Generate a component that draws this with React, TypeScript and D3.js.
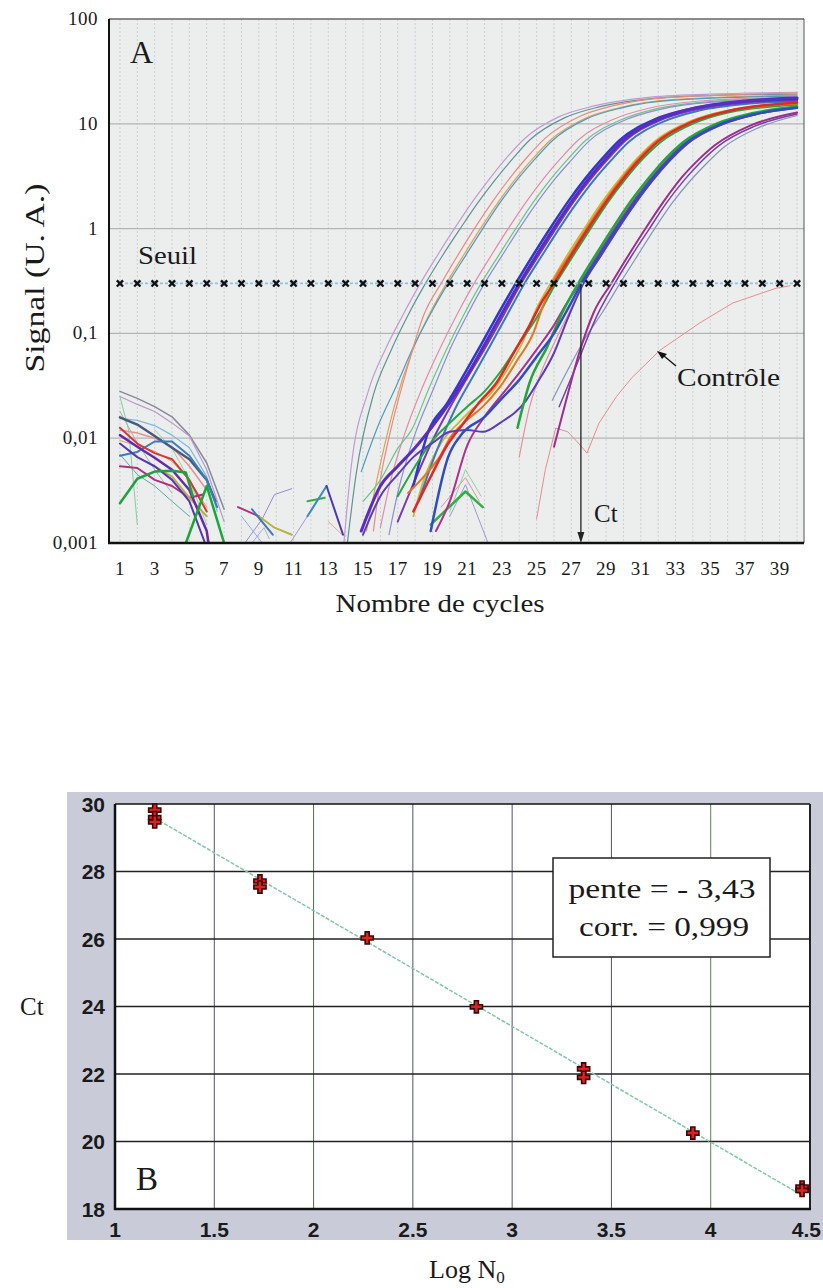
import React from "react";
import * as d3 from "d3";

type Pt = [number, number];

// ---------- Panel A : amplification curves (signal vs cycle) ----------
const cycleTickValues = [1, 3, 5, 7, 9, 11, 13, 15, 17, 19, 21, 23, 25, 27, 29, 31, 33, 35, 37, 39];
const signalTickValues = [0.001, 0.01, 0.1, 1, 10, 100];
const signalTickLabels = ["0,001", "0,01", "0,1", "1", "10", "100"];
const thresholdSignal = 0.3;
const ctCycle = 27.55;
const lastCycle = 40;

// Noisy baseline traces over the first cycles
const earlyTraces: Pt[][] = [
  [[1, 0.028], [2, 0.024], [3, 0.02], [4, 0.016], [5, 0.0107], [6, 0.0058], [7, 0.0021]],
  [[1, 0.025], [2, 0.021], [3, 0.018], [4, 0.014], [5, 0.0105], [6, 0.005], [7, 0.0016]],
  [[1, 0.0155], [2, 0.0148], [3, 0.0132], [4, 0.0107], [5, 0.0081], [6, 0.0043], [6.6, 0.002]],
  [[1, 0.018], [2, 0.009], [3, 0.005], [4, 0.003]],
  [[1, 0.025], [1.5, 0.012], [2, 0.0015]],
  [[3, 0.012], [4, 0.008], [5, 0.004], [6, 0.0015]],
  [[1, 0.0095], [2, 0.0085], [3, 0.0075], [4, 0.006], [5, 0.004], [6, 0.0022]],
  [[1, 0.007], [2, 0.0045], [3, 0.0035], [4, 0.0025], [5, 0.0018]],
  [[1, 0.012], [2, 0.0112], [3, 0.01], [4, 0.0083], [5, 0.0054], [6, 0.0032]],
  [[1, 0.0158], [2, 0.0135], [3, 0.0105], [4, 0.0081], [5, 0.0063], [6, 0.004], [6.5, 0.0025]],
  [[1, 0.0068], [2, 0.0074], [3, 0.0093], [4, 0.0093], [5, 0.0068], [6, 0.004], [6.6, 0.0022]],
  [[1, 0.0126], [2, 0.0089], [3, 0.0072], [4, 0.0063], [5, 0.004], [6, 0.002]],
  [[1, 0.0054], [2, 0.0052], [3, 0.004], [4, 0.0035], [5, 0.0027], [5.8, 0.0029]],
  [[3, 0.0054], [4, 0.0043], [5, 0.0027], [6, 0.0018]],
  [[1, 0.0107], [2, 0.0083], [3, 0.0065], [4, 0.005], [5, 0.0032], [6, 0.0013], [6.1, 0.001]],
  [[1, 0.0089], [2, 0.0066], [3, 0.0054], [4, 0.004], [5, 0.0025], [5.9, 0.001]],
  [[1, 0.0024], [2, 0.0041], [3, 0.0048], [4, 0.0049], [4.8, 0.0047], [5.2, 0.0028]],
  [[4.8, 0.001], [6, 0.0035], [7, 0.001]],
];
const earlyColors = [
  "#8a8898", "#b898cc", "#7cb8dc", "#a4b4a4", "#88cc98", "#9ad0a0", "#e0a060", "#5ea4a4", "#e89090",
  "#4a587a", "#3a7cc0", "#d83838", "#b03080", "#b8b040", "#6a2aa8", "#5236b4", "#20a040", "#18a838",
];
const earlyWidths = [1.5, 1.2, 1.2, 1, 1, 1, 1, 1, 1.5, 2.5, 2, 2, 2, 2, 2.5, 2, 2.5, 2.5];

// Short fragments near the bottom edge
const midTraces: Pt[][] = [
  [[8.0, 0.0018], [9.2, 0.001]],
  [[8.2, 0.001], [9.2, 0.0017], [9.9, 0.0029], [10.9, 0.0033]],
  [[8.6, 0.001], [9.3, 0.0014], [9.6, 0.0011]],
  [[7.8, 0.0022], [9.0, 0.0018]],
  [[9.0, 0.0018], [9.9, 0.0014], [10.9, 0.0012]],
  [[8.6, 0.0021], [9.8, 0.0012]],
  [[10.8, 0.001], [11.8, 0.0018]],
  [[13.0, 0.0016], [13.8, 0.0012]],
  [[11.8, 0.0025], [12.8, 0.0027]],
  [[11.8, 0.0018], [12.9, 0.0035]],
  [[12.9, 0.0035], [13.85, 0.0012]],
  [[19.5, 0.0022], [20.9, 0.0042], [21.7, 0.0025]],
  [[20.0, 0.0018], [20.9, 0.0036], [22.2, 0.001]],
  [[20.0, 0.002], [20.9, 0.005], [21.8, 0.0028]],
  [[18.9, 0.0015], [20.9, 0.0031], [21.9, 0.0022]],
];
const midColors = [
  "#80b0e0", "#9a88d0", "#b0a8d8", "#b0307c", "#b8b040", "#3a7ab8", "#a098d0", "#e8a090",
  "#30b040", "#3a88c8", "#4a38b8", "#e090a0", "#a098d0", "#90d0a0", "#30b040",
];
const midWidths = [1, 1, 1, 2, 2, 2, 1, 1, 2, 2, 2, 1, 1, 1, 2.5];

// Seven dilutions, thin traces for the most concentrated samples
const dilutionTraces: Pt[][] = [
  [[13.9, 0.001], [14.3, 0.005], [15.3, 0.028], [16.3, 0.071], [17.3, 0.15], [18.3, 0.3], [19.3, 0.56], [20.3, 1.02], [21.3, 1.8], [22.3, 3.0], [23.3, 4.8], [24.3, 7.2], [26.3, 11.7], [28.3, 14.8], [31.3, 17.8], [35, 19.2], [40, 20.0]],
  [[14.1, 0.001], [14.6, 0.0045], [15.6, 0.026], [16.6, 0.068], [17.6, 0.15], [18.6, 0.3], [19.6, 0.56], [20.6, 1.0], [21.6, 1.75], [22.6, 2.9], [23.6, 4.6], [24.6, 7.0], [26.6, 11.4], [28.6, 14.5], [31.6, 17.4], [35, 18.6], [40, 19.2]],
  [[15.2, 0.0013], [15.8, 0.004], [16.8, 0.02], [17.8, 0.065], [18.8, 0.15], [19.8, 0.3], [20.8, 0.56], [21.8, 1.02], [22.8, 1.8], [23.8, 3.0], [24.8, 4.7], [25.8, 7.0], [27.8, 11.3], [29.8, 14.3], [32.8, 17.0], [40, 18.8]],
  [[14.9, 0.0048], [15.9, 0.0135], [16.9, 0.031], [17.9, 0.074], [18.9, 0.155], [19.9, 0.3], [20.9, 0.55], [21.9, 1.0], [22.9, 1.78], [23.9, 2.95], [24.9, 4.6], [25.9, 6.9], [27.9, 11.2], [29.9, 14.2], [32.9, 16.8], [40, 18.4]],
  [[15.6, 0.0013], [16.0, 0.004], [16.6, 0.012], [17.6, 0.05], [18.5, 0.15], [19.5, 0.3], [20.5, 0.57], [21.5, 1.05], [22.5, 1.85], [23.5, 3.1], [24.5, 4.9], [25.5, 7.3], [27.5, 11.8], [29.5, 15.0], [32.5, 17.8], [40, 19.6]],
  [[16.0, 0.0014], [16.6, 0.004], [17.4, 0.011], [18.4, 0.03], [19.4, 0.07], [20.4, 0.15], [21.4, 0.3], [22.4, 0.56], [23.4, 1.02], [24.4, 1.8], [25.4, 3.0], [26.4, 4.7], [27.4, 7.0], [29.4, 11.0], [31.4, 14.0], [34.4, 16.5], [40, 18.0]],
  [[15.0, 0.0025], [16.0, 0.004], [17.0, 0.008], [17.8, 0.012], [18.8, 0.03], [19.8, 0.07], [20.8, 0.15], [21.8, 0.3], [22.8, 0.55], [23.8, 1.0], [24.8, 1.78], [25.8, 2.95], [26.8, 4.6], [27.8, 6.9], [29.8, 10.8], [31.8, 13.8], [34.8, 16.2], [40, 17.6]],
  [[16.5, 0.0012], [17.0, 0.003], [18.0, 0.011], [19.0, 0.028], [20.0, 0.07], [21.0, 0.15], [22.0, 0.3], [23.0, 0.55], [24.0, 1.0], [25.0, 1.75], [26.0, 2.9], [27.0, 4.5], [28.0, 6.8], [30.0, 10.7], [32.0, 13.6], [35.0, 16.0], [40, 17.2]],
  [[24.0, 0.0066], [24.6, 0.02], [25.2, 0.04], [26.0, 0.08], [26.8, 0.15], [27.7, 0.3], [28.7, 0.55], [29.7, 1.0], [30.7, 1.75], [31.7, 2.9], [32.7, 4.5], [33.7, 6.4], [35.7, 9.8], [37.7, 12.3], [40, 14.0]],
  [[25.9, 0.023], [26.8, 0.045], [27.8, 0.09], [28.8, 0.16], [29.8, 0.3], [30.8, 0.55], [31.8, 1.0], [32.8, 1.75], [33.8, 2.8], [34.8, 4.2], [35.8, 6.0], [37.8, 9.2], [40, 12.0]],
  [[17.9, 0.0018], [18.5, 0.004], [19.5, 0.009], [20.5, 0.014], [21.3, 0.019], [22.3, 0.026], [23.3, 0.045], [24.3, 0.09], [24.9, 0.16], [25.8, 0.3], [26.8, 0.57], [27.8, 1.03], [28.8, 1.82], [29.8, 3.0], [30.8, 4.7], [31.8, 6.8], [33.8, 10.5], [35.8, 13.2], [40, 15.8]],
  [[18.2, 0.0025], [19.3, 0.008], [20.3, 0.019], [21.3, 0.038], [22.3, 0.075], [23.3, 0.15], [24.3, 0.3], [25.3, 0.55], [26.3, 1.0], [27.3, 1.75], [28.3, 2.9], [29.3, 4.5], [30.3, 6.7], [32.3, 10.5], [34.3, 13.3], [37.3, 15.6], [40, 16.4]],
  [[17.0, 0.0016], [18.0, 0.004], [19.0, 0.0095], [20.1, 0.021], [21.1, 0.04], [22.1, 0.076], [23.1, 0.15], [24.1, 0.3], [25.1, 0.55], [26.1, 1.0], [27.1, 1.78], [28.1, 2.95], [29.1, 4.6], [30.1, 6.9], [32.1, 10.8], [34.1, 13.6], [37.1, 16.0], [40, 16.8]],
  [[17.9, 0.0035], [18.8, 0.012], [19.8, 0.021], [20.8, 0.04], [21.8, 0.078], [22.8, 0.155], [23.8, 0.3], [24.8, 0.56], [25.8, 1.02], [26.8, 1.8], [27.8, 3.0], [28.8, 4.7], [29.8, 7.0], [31.8, 11.0], [33.8, 13.8], [36.8, 16.2], [40, 17.2]],
  [[14.9, 0.0013], [16.0, 0.0035], [17.0, 0.0054], [18.0, 0.0081], [19.0, 0.013], [20.0, 0.022], [21.0, 0.04], [22.0, 0.078], [23.0, 0.155], [24.0, 0.3], [25.0, 0.56], [26.0, 1.02], [27.0, 1.8], [28.0, 3.0], [29.0, 4.7], [30.0, 7.0], [32.0, 11.0], [34.0, 14.0], [37.0, 16.5], [40, 17.6]],
  [[17.0, 0.0028], [18.0, 0.0054], [19.0, 0.0095], [20.0, 0.014], [21.0, 0.02], [22.0, 0.028], [23.0, 0.045], [24.0, 0.08], [25.1, 0.15], [26.1, 0.3], [27.1, 0.55], [28.1, 1.0], [29.1, 1.78], [30.1, 2.95], [31.1, 4.6], [32.1, 6.6], [34.1, 10.2], [36.1, 12.9], [40, 15.2]],
  [[17.6, 0.003], [18.6, 0.0045], [19.4, 0.0066], [20.0, 0.01], [21.0, 0.015], [21.9, 0.02], [22.9, 0.031], [23.9, 0.056], [24.8, 0.1], [25.3, 0.17], [25.9, 0.3], [26.9, 0.56], [27.9, 1.02], [28.9, 1.8], [29.9, 3.0], [30.9, 4.7], [31.9, 6.8], [33.9, 10.5], [35.9, 13.2], [40, 15.6]],
  [[17.9, 0.002], [18.9, 0.0043], [19.8, 0.0083], [20.8, 0.014], [21.7, 0.022], [22.7, 0.034], [23.6, 0.062], [24.6, 0.12], [25.3, 0.2], [26.0, 0.3], [27.0, 0.56], [28.0, 1.02], [29.0, 1.8], [30.0, 3.0], [31.0, 4.7], [32.0, 6.8], [34.0, 10.5], [36.0, 13.2], [40, 16.0]],
  [[19.2, 0.0013], [20.0, 0.0025], [21.0, 0.0085], [22.0, 0.016], [23.0, 0.026], [24.0, 0.042], [25.0, 0.07], [26.0, 0.12], [26.7, 0.19], [27.5, 0.3], [28.5, 0.55], [29.5, 1.0], [30.5, 1.75], [31.5, 2.9], [32.5, 4.5], [33.5, 6.5], [35.5, 9.9], [37.5, 12.4], [40, 14.4]],
  [[15.0, 0.0012], [16.0, 0.0028], [17.0, 0.0045], [17.9, 0.0066], [19.0, 0.009], [20.0, 0.0115], [21.0, 0.012], [21.9, 0.0115], [22.9, 0.014], [24.4, 0.023], [25.0, 0.033], [26.0, 0.065], [26.8, 0.14], [27.7, 0.3], [28.7, 0.55], [29.7, 1.0], [30.7, 1.75], [31.7, 2.9], [32.7, 4.5], [33.7, 6.5], [35.7, 9.9], [37.7, 12.4], [40, 14.3]],
  [[23.9, 0.0126], [24.6, 0.034], [25.6, 0.074], [26.5, 0.16], [27.4, 0.3], [28.4, 0.56], [29.4, 1.02], [30.4, 1.8], [31.4, 2.95], [32.4, 4.6], [33.4, 6.6], [35.4, 10.1], [37.4, 12.6], [40, 14.6]],
  [[18.9, 0.0013], [19.9, 0.0066], [20.7, 0.011], [22.0, 0.016], [23.0, 0.024], [24.0, 0.036], [25.0, 0.06], [26.0, 0.1], [26.7, 0.16], [27.6, 0.3], [28.6, 0.55], [29.6, 1.0], [30.6, 1.75], [31.6, 2.9], [32.6, 4.5], [33.6, 6.5], [35.6, 9.9], [37.6, 12.4], [40, 14.2]],
  [[26.3, 0.02], [27.3, 0.05], [28.5, 0.15], [29.5, 0.3], [30.5, 0.56], [31.5, 1.0], [32.5, 1.78], [33.5, 2.9], [34.5, 4.4], [35.5, 6.2], [37.5, 9.4], [40, 12.4]],
  [[26.0, 0.0083], [26.7, 0.023], [27.5, 0.069], [28.3, 0.16], [29.3, 0.3], [30.3, 0.56], [31.3, 1.02], [32.3, 1.8], [33.3, 3.0], [34.3, 4.5], [35.3, 6.3], [37.3, 9.6], [40, 12.8]],
];
const dilutionColors = [
  "#c09ad4", "#5f9494", "#e0a050", "#4a9cc0", "#e88a80", "#e48aa8", "#6cc488", "#8c8cd8",
  "#e89098", "#8494b8", "#c8b838", "#3c78c0", "#7a3ab8", "#3038c8", "#5a2cc0", "#28a83c",
  "#e8741c", "#e02828", "#b0308c", "#5a3cc0", "#22a63a", "#2f4cc4", "#7040b0", "#a02c8c",
];
const dilutionWidths = [1.2, 1.2, 1.2, 1.2, 1.2, 1.2, 1.2, 1.2, 1.2, 1.2, 1.8, 2, 2, 2.5, 3, 2, 2, 2.5, 2, 2, 2.5, 2.5, 1.5, 2];

// Negative control
const controlTrace: Pt[] = [
  [25.0, 0.0017], [25.5, 0.005], [26.1, 0.0125], [26.8, 0.0115], [27.4, 0.009], [27.9, 0.0072],
  [28.6, 0.014], [29.6, 0.025], [30.5, 0.038], [32.1, 0.069], [34.4, 0.126], [36.3, 0.195], [38.8, 0.27], [39.6, 0.285],
];

// ---------- Panel B : standard curve ----------
const logN0Ticks = [1, 1.5, 2, 2.5, 3, 3.5, 4, 4.5];
const logN0Labels = ["1", "1.5", "2", "2.5", "3", "3.5", "4", "4.5"];
const ctTicks = [18, 20, 22, 24, 26, 28, 30];
const ctTickLabels = ["18", "20", "22", "24", "26", "28", "30"];
const standardLogN0 = [1.2, 1.2, 1.2, 1.73, 1.73, 2.27, 2.82, 3.36, 3.36, 3.91, 4.46, 4.46];
const standardCt = [29.82, 29.6, 29.47, 27.72, 27.54, 26.03, 23.99, 22.15, 21.9, 20.25, 18.65, 18.55];
const fitSlope = -3.43;
const fitCorr = 0.999;

const SERIF = "'Liberation Serif', 'Times New Roman', serif";
const SANS = "'Liberation Sans', Arial, sans-serif";

const frText = (v: number, digits: number) => v.toFixed(digits).replace(".", ",");

export default function App() {
  // Panel A scales
  const xA = d3.scaleLinear().domain([0.37, 40.4]).range([109, 804]);
  const yA = d3.scaleLog().domain([0.001, 100]).range([543, 19]);
  const smooth = d3.line<Pt>().x((d) => xA(d[0])).y((d) => yA(d[1])).curve(d3.curveMonotoneX);
  const straight = d3.line<Pt>().x((d) => xA(d[0])).y((d) => yA(d[1]));
  const [aLeft, aRight] = xA.range();
  const [aBottom, aTop] = yA.range();

  // Panel B scales
  const xB = d3.scaleLinear().domain([1, 4.5]).range([115, 810]);
  const yB = d3.scaleLinear().domain([18, 30]).range([1209, 804]);
  const [bLeft, bRight] = xB.range();
  const [bBottom, bTop] = yB.range();

  const meanX = d3.mean(standardLogN0) as number;
  const meanY = d3.mean(standardCt) as number;
  const fitIntercept = meanY - fitSlope * meanX;
  const fitX = d3.extent(standardLogN0) as [number, number];
  const cross = d3.symbol().type(d3.symbolCross).size(82)();

  const thY = yA(thresholdSignal);
  const thresholdCycles = d3.range(1, lastCycle + 1);
  const ctX = xA(ctCycle);

  const vGridB = logN0Ticks.slice(1, -1);
  const vGridColors: Record<string, string> = { "2": "#4f6e52", "4": "#5c7f5c" };
  const lastTick = logN0Ticks.length - 1;

  return (
    <svg width={823} height={1288} style={{ position: "absolute", left: 0, top: 0, background: "#fff" }}>
      <defs>
        <clipPath id="plotA">
          <rect x={aLeft} y={aTop} width={aRight - aLeft} height={aBottom - aTop} />
        </clipPath>
      </defs>

      {/* ===== Panel A ===== */}
      <rect x={aLeft} y={aTop} width={aRight - aLeft} height={aBottom - aTop} fill="#eceeee" />
      {thresholdCycles.map((c) => (
        <line key={"vg" + c} x1={xA(c)} x2={xA(c)} y1={aTop} y2={aBottom} stroke="#c6ccd2" strokeWidth={0.9} strokeDasharray="2,2" />
      ))}
      {signalTickValues.slice(1, -1).map((v) => (
        <line key={"hg" + v} x1={aLeft} x2={aRight} y1={yA(v)} y2={yA(v)} stroke="#b4b4b4" strokeWidth={1.2} />
      ))}

      <g clipPath="url(#plotA)" fill="none" strokeLinejoin="round" strokeLinecap="round">
        {earlyTraces.map((t, i) => (
          <path key={"e" + i} d={straight(t) || ""} stroke={earlyColors[i]} strokeWidth={earlyWidths[i]} />
        ))}
        {midTraces.map((t, i) => (
          <path key={"m" + i} d={straight(t) || ""} stroke={midColors[i]} strokeWidth={midWidths[i]} />
        ))}
        <path d={straight(controlTrace) || ""} stroke="#e88c8c" strokeWidth={1} />
        {dilutionTraces.map((t, i) => (
          <path key={"d" + i} d={smooth(t) || ""} stroke={dilutionColors[i]} strokeWidth={dilutionWidths[i]} />
        ))}
      </g>

      {/* threshold */}
      <line x1={xA(1)} x2={xA(lastCycle)} y1={thY} y2={thY} stroke="#8fc0dc" strokeWidth={1.6} strokeDasharray="3,2" />
      {thresholdCycles.map((c) => {
        const cx = xA(c);
        const s = 3.1;
        return (
          <path key={"x" + c} d={`M${cx - s},${thY - s}L${cx + s},${thY + s}M${cx - s},${thY + s}L${cx + s},${thY - s}`} stroke="#111" strokeWidth={2.4} />
        );
      })}

      {/* Ct arrow */}
      <line x1={ctX} x2={ctX} y1={thY} y2={aBottom - 6} stroke="#222" strokeWidth={1.3} />
      <path d={`M${ctX - 3.5},${aBottom - 11}L${ctX + 3.5},${aBottom - 11}L${ctX},${aBottom}Z`} fill="#222" />

      {/* frame */}
      <line x1={aLeft} x2={aRight} y1={aTop} y2={aTop} stroke="#666" strokeWidth={1.5} />
      <line x1={aRight} x2={aRight} y1={aTop} y2={aBottom} stroke="#555" strokeWidth={1} />
      <line x1={aLeft} x2={aLeft} y1={aTop} y2={aBottom + 1} stroke="#111" strokeWidth={2} />
      <line x1={aLeft - 1} x2={aRight} y1={aBottom} y2={aBottom} stroke="#111" strokeWidth={2.5} />

      {/* Panel A labels */}
      <g fontFamily={SERIF} fill="#1a1a1a">
        {signalTickValues.map((v, i) => (
          <text key={"yl" + v} x={98} y={yA(v) + 6} fontSize={19} textAnchor="end" letterSpacing={0.5}>
            {signalTickLabels[i]}
          </text>
        ))}
        {cycleTickValues.map((c) => (
          <text key={"xl" + c} x={xA(c)} y={575} fontSize={19} textAnchor="middle" letterSpacing={0.5}>
            {c}
          </text>
        ))}
        <text x={440} y={612} fontSize={25} textAnchor="middle" textLength={209} lengthAdjust="spacingAndGlyphs">
          Nombre de cycles
        </text>
        <text transform="translate(44,278) rotate(-90)" fontSize={28} textAnchor="middle" textLength={189} lengthAdjust="spacingAndGlyphs">
          Signal (U. A.)
        </text>
        <text x={130} y={63} fontSize={32}>A</text>
        <text x={138} y={264} fontSize={25} textLength={59} lengthAdjust="spacingAndGlyphs">Seuil</text>
        <text x={677} y={386} fontSize={25} textLength={103} lengthAdjust="spacingAndGlyphs">Contrôle</text>
        <text x={594} y={522} fontSize={25}>Ct</text>
      </g>
      <line x1={676} y1={366} x2={664} y2={356} stroke="#111" strokeWidth={1.3} />
      <path d="M657,351 L667,354 L662,359 Z" fill="#111" />

      {/* ===== Panel B ===== */}
      <rect x={67} y={792} width={756} height={448} fill="#c9ccd8" />
      <rect x={bLeft} y={bTop} width={bRight - bLeft} height={bBottom - bTop} fill="#fff" />
      {vGridB.map((v) => (
        <line key={"bv" + v} x1={xB(v)} x2={xB(v)} y1={bTop} y2={bBottom} stroke={vGridColors[String(v)] || "#525272"} strokeWidth={1} />
      ))}
      {ctTicks.slice(1, -1).map((v) => (
        <line key={"bh" + v} x1={bLeft} x2={bRight} y1={yB(v)} y2={yB(v)} stroke="#222" strokeWidth={1.6} />
      ))}
      <line x1={bLeft} x2={bRight} y1={bTop} y2={bTop} stroke="#111" strokeWidth={1.6} />
      <line x1={bRight} x2={bRight} y1={bTop} y2={bBottom} stroke="#222" strokeWidth={2} />
      <line x1={bLeft} x2={bLeft} y1={bTop} y2={bBottom + 1} stroke="#111" strokeWidth={2.5} />
      <line x1={bLeft - 1} x2={bRight + 1} y1={bBottom} y2={bBottom} stroke="#111" strokeWidth={2.5} />

      {/* fitted line */}
      <line
        x1={xB(fitX[0])}
        y1={yB(fitIntercept + fitSlope * fitX[0])}
        x2={xB(fitX[1])}
        y2={yB(fitIntercept + fitSlope * fitX[1])}
        stroke="#82c8a6"
        strokeWidth={1.5}
        strokeDasharray="4,1.5"
      />
      {standardLogN0.map((x, i) => (
        <path key={"pt" + i} d={cross || ""} transform={`translate(${xB(x)},${yB(standardCt[i])})`} fill="#e61e1e" stroke="#3a0808" strokeWidth={1.6} />
      ))}

      {/* fit annotation */}
      <rect x={553} y={858} width={217} height={99} fill="#fff" stroke="#222" strokeWidth={1.5} />
      <g fontFamily={SERIF} fill="#1a1a1a" fontSize={27} textAnchor="middle">
        <text x={662} y={898} textLength={187} lengthAdjust="spacingAndGlyphs">{`pente = - ${frText(-fitSlope, 2)}`}</text>
        <text x={664} y={936} textLength={170} lengthAdjust="spacingAndGlyphs">{`corr. = ${frText(fitCorr, 3)}`}</text>
      </g>

      <g fontFamily={SANS} fontWeight="bold" fill="#1a1a1a" fontSize={21}>
        {ctTicks.map((v, i) => (
          <text key={"byl" + v} x={105} y={yB(v) + 7.5} textAnchor="end">{ctTickLabels[i]}</text>
        ))}
        {logN0Ticks.map((v, i) => (
          <text
            key={"bxl" + v}
            x={i === lastTick ? 821 : xB(v)}
            y={1237}
            textAnchor={i === lastTick ? "end" : "middle"}
          >
            {logN0Labels[i]}
          </text>
        ))}
      </g>
      <g fontFamily={SERIF} fill="#1a1a1a">
        <text x={136} y={1190} fontSize={33}>B</text>
        <text x={20} y={1015} fontSize={25}>Ct</text>
        <text x={429} y={1278} fontSize={26}>
          Log N<tspan fontSize={17} dy={5}>0</tspan>
        </text>
      </g>
    </svg>
  );
}
